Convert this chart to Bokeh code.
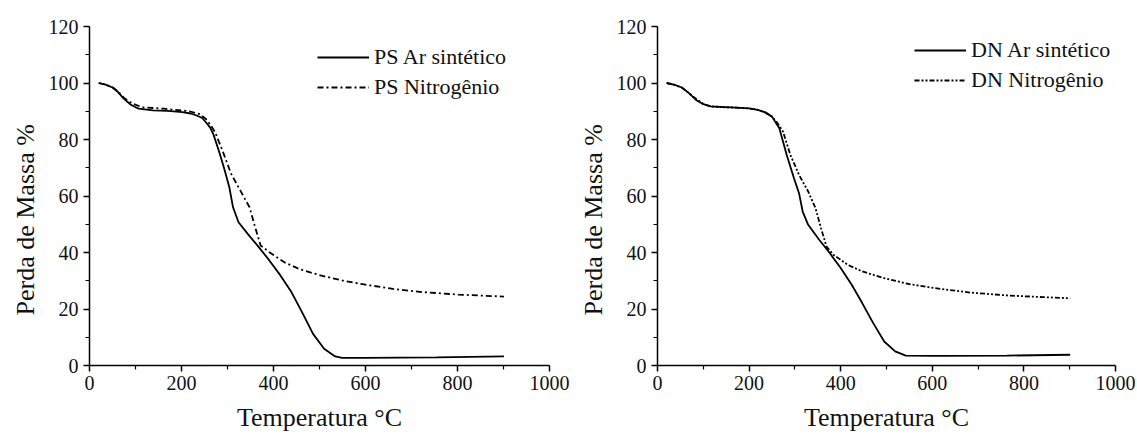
from bokeh.plotting import figure
from bokeh.models import Legend, LegendItem, Range1d, FixedTicker, Title
from bokeh.layouts import row
from bokeh.embed import file_html
from bokeh.resources import INLINE

# ---- data ----
ps_ar_t = [20, 35, 50, 62, 75, 90, 107, 138, 170, 202, 220, 233, 245, 253, 262, 269, 281, 292, 304, 312, 324, 344, 368, 391, 415, 439, 462, 486, 510, 534, 549, 597, 755, 901]
ps_ar_m = [100, 99.4, 98.4, 96.8, 94.4, 92.3, 90.9, 90.3, 90.1, 89.7, 89.2, 88.5, 87.6, 86.1, 84.3, 82, 76.1, 70.2, 63.1, 56, 50.7, 46.6, 41.9, 37.2, 31.9, 26, 18.9, 11.2, 5.9, 3.2, 2.7, 2.7, 2.9, 3.2]
ps_n2_t = [20, 35, 50, 62, 75, 95, 115, 162, 217, 240, 253, 263, 273, 289, 308, 328, 348, 360, 372, 391, 423, 455, 502, 549, 597, 660, 723, 802, 901]
ps_n2_m = [100, 99.4, 98.5, 97, 94.7, 92.6, 91.4, 90.9, 90, 89, 87.3, 85.2, 82.6, 76.1, 67.8, 61.9, 56, 49, 42.5, 40.1, 36.6, 34.2, 31.9, 30.1, 28.7, 27.1, 26, 25.1, 24.4]

dn_ar_t = [20, 38, 53, 68, 84, 100, 116, 140, 171, 200, 219, 235, 250, 266, 282, 298, 309, 317, 329, 353, 376, 400, 424, 447, 471, 495, 519, 542, 605, 763, 901]
dn_ar_m = [100, 99.3, 98.4, 96.5, 94, 92.5, 91.7, 91.5, 91.3, 91, 90.5, 89.6, 88.1, 84, 74.6, 66.3, 61, 54.5, 49.8, 44.5, 39.8, 34.5, 28.6, 22.1, 15, 8.5, 5, 3.5, 3.4, 3.5, 3.8]
dn_n2_t = [20, 38, 53, 68, 84, 100, 116, 140, 171, 200, 219, 235, 250, 262, 274, 290, 309, 329, 345, 357, 369, 384, 416, 447, 495, 550, 605, 684, 763, 842, 901]
dn_n2_m = [100, 99.3, 98.4, 96.5, 94.4, 92.6, 91.7, 91.5, 91.3, 91, 90.5, 89.6, 88.1, 85.8, 82.8, 74.6, 67.5, 61.6, 55.7, 48.6, 42.1, 39.2, 35.6, 33.3, 30.9, 28.8, 27.4, 25.8, 24.8, 24.2, 23.8]

x_ticks = [0, 200, 400, 600, 800, 1000]
y_ticks = [0, 20, 40, 60, 80, 100, 120]

FONT = "Liberation Serif"


def make_panel(width, left, right, ar_t, ar_m, n2_t, n2_m, lab_ar, lab_n2, n2_dash, leg_loc):
    p = figure(width=width, height=436, output_backend="svg", toolbar_location=None,
               min_border_left=left, min_border_right=right, min_border_top=26, min_border_bottom=71,
               x_range=Range1d(0, 1000), y_range=Range1d(0, 120))
    p.outline_line_color = None
    p.xgrid.grid_line_color = None
    p.ygrid.grid_line_color = None
    p.background_fill_color = "white"
    p.border_fill_color = "white"

    r1 = p.line(ar_t, ar_m, line_color="black", line_width=1.8)
    r2 = p.line(n2_t, n2_m, line_color="black", line_width=1.8, line_dash=n2_dash)

    for ax, ticks in ((p.xaxis[0], x_ticks), (p.yaxis[0], y_ticks)):
        ax.ticker = FixedTicker(ticks=ticks, minor_ticks=[t + (ticks[1] - ticks[0]) / 2 for t in ticks[:-1]])
        ax.axis_line_width = 1.5
        ax.axis_line_color = "black"
        ax.major_tick_line_color = "black"
        ax.major_tick_line_width = 1.5
        ax.minor_tick_line_color = "black"
        ax.minor_tick_line_width = 1.2
        ax.major_tick_in = 0
        ax.major_tick_out = 6
        ax.minor_tick_in = 0
        ax.minor_tick_out = 4
        ax.major_label_text_font = FONT
        ax.major_label_text_font_size = "20px"
        ax.major_label_text_color = "#111111"
        ax.axis_label_text_font = FONT
        ax.axis_label_text_font_size = "26px"
        ax.axis_label_text_font_style = "normal"
        ax.axis_label_text_color = "#111111"
    p.xaxis.axis_label = "Temperatura °C"
    p.xaxis.major_label_standoff = 4
    p.xaxis.axis_label_standoff = 10
    p.yaxis.major_label_standoff = 5

    # y-axis title, placed slightly below the frame centre as in the reference
    p.add_layout(Title(text="Perda de Massa %", align="left", offset=50, standoff=12,
                       text_font=FONT, text_font_size="26px", text_font_style="normal",
                       text_color="#111111"), "left")

    leg = Legend(items=[LegendItem(label=lab_ar, renderers=[r1]),
                        LegendItem(label=lab_n2, renderers=[r2])],
                 location=leg_loc, orientation="vertical")
    leg.background_fill_alpha = 0
    leg.border_line_color = None
    leg.padding = 0
    leg.margin = 0
    leg.spacing = 0
    leg.glyph_width = 52
    leg.glyph_height = 30
    leg.label_height = 30
    leg.label_standoff = 5
    leg.label_text_font = FONT
    leg.label_text_font_size = "22px"
    leg.label_text_color = "#111111"
    p.add_layout(leg, "center")
    return p


p1 = make_panel(570, 89, 21, ps_ar_t, ps_ar_m, ps_n2_t, ps_n2_m,
                "PS Ar sintético", "PS Nitrogênio", "6 3 2 3", (228, 263))
p2 = make_panel(567, 85, 22, dn_ar_t, dn_ar_m, dn_n2_t, dn_n2_m,
                "DN Ar sintético", "DN Nitrogênio", "5 2 2 2 2 2", (257, 270))

layout = row(p1, p2)
open("out.html", "w").write(file_html(layout, INLINE))
